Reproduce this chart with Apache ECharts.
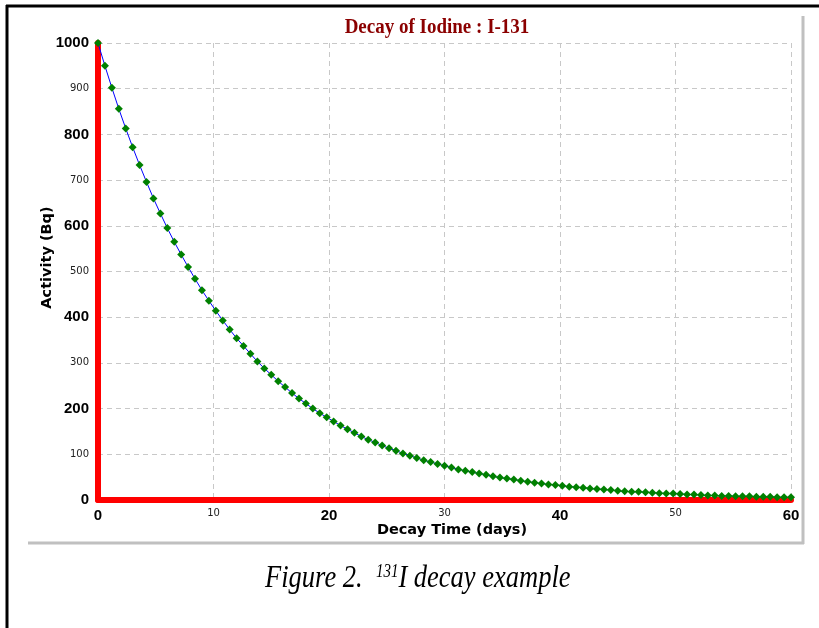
<!DOCTYPE html>
<html>
<head>
<meta charset="utf-8">
<script src="https://cdn.jsdelivr.net/npm/echarts@6/dist/echarts.min.js"></script>
<style>
  html, body { margin: 0; padding: 0; background: #fff; }
  #chart { width: 819px; height: 628px; }
</style>
</head>
<body>
<div id="chart"></div>
<script>
// decay time (days): one marker every ~0.6 day
var days = [0, 0.6, 1.2, 1.8, 2.4, 3, 3.6, 4.2, 4.8, 5.4, 6, 6.6, 7.2, 7.8, 8.4, 9, 9.6, 10.2, 10.8, 11.4,
  12, 12.6, 13.2, 13.8, 14.4, 15, 15.6, 16.2, 16.8, 17.4, 18, 18.6, 19.2, 19.8, 20.4, 21, 21.6, 22.2, 22.8, 23.4,
  24, 24.6, 25.2, 25.8, 26.4, 27, 27.6, 28.2, 28.8, 29.4, 30, 30.6, 31.2, 31.8, 32.4, 33, 33.6, 34.2, 34.8, 35.4,
  36, 36.6, 37.2, 37.8, 38.4, 39, 39.6, 40.2, 40.8, 41.4, 42, 42.6, 43.2, 43.8, 44.4, 45, 45.6, 46.2, 46.8, 47.4,
  48, 48.6, 49.2, 49.8, 50.4, 51, 51.6, 52.2, 52.8, 53.4, 54, 54.6, 55.2, 55.8, 56.4, 57, 57.6, 58.2, 58.8, 59.4, 60];
// activity (Bq)
var activity = [1000, 950, 902, 856, 813, 772, 733, 696, 660, 627, 595, 565, 537, 510, 484, 459, 436, 414, 393, 373,
  354, 337, 320, 303, 288, 274, 260, 247, 234, 222, 211, 200, 190, 181, 172, 163, 155, 147, 139, 132,
  126, 119, 113, 108, 102, 97, 92, 87, 83, 79, 75, 71, 67, 64, 61, 58, 55, 52, 49, 47,
  45, 42, 40, 38, 36, 34, 33, 31, 29, 28, 27, 25, 24, 23, 22, 20, 19, 18, 18, 17,
  16, 15, 14, 14, 13, 12, 12, 11, 10, 10, 9, 9, 8, 8, 8, 7, 7, 7, 6, 6, 6];
var xBig = [0, 20, 40, 60];
var yBig = [0, 200, 400, 600, 800, 1000];

var points = [];
for (var i = 0; i < days.length; i++) {
  points.push([days[i], activity[i]]);
}

var chart = echarts.init(document.getElementById('chart'));
chart.setOption({
  backgroundColor: '#fff',
  animation: false,
  grid: { left: 98, right: 28, top: 43, bottom: 128, containLabel: false },
  xAxis: {
    type: 'value',
    min: 0, max: 60, interval: 10,
    name: 'Decay Time (days)',
    nameLocation: 'middle',
    nameGap: 23,
    nameMoveOverlap: false,
    nameTextStyle: { fontFamily: 'DejaVu Sans', fontSize: 14.5, fontWeight: 'bold', color: '#000', padding: [0, 0, 0, 15] },
    axisLine: { show: true, onZero: false, lineStyle: { color: '#ff0000', width: 6 } },
    axisTick: { show: false },
    splitLine: { show: true, lineStyle: { color: '#c8c8c8', type: [5, 4], width: 1 } },
    axisLabel: {
      margin: 8,
      formatter: function (v) { return xBig.indexOf(v) >= 0 ? '{b|' + v + '}' : '{s|' + v + '}'; },
      rich: {
        b: { fontFamily: 'Liberation Sans', fontSize: 15, fontWeight: 'bold', color: '#000' },
        s: { fontFamily: 'DejaVu Sans', fontSize: 10, color: '#222', padding: [0, 0, 6, 0] }
      }
    }
  },
  yAxis: {
    type: 'value',
    min: 0, max: 1000, interval: 100,
    name: 'Activity (Bq)',
    nameLocation: 'middle',
    nameGap: 43,
    nameRotate: 90,
    nameMoveOverlap: false,
    nameTextStyle: { fontFamily: 'DejaVu Sans', fontSize: 14.5, fontWeight: 'bold', color: '#000', padding: [0, 0, 0, 28] },
    axisLine: { show: true, lineStyle: { color: '#ff0000', width: 6 } },
    axisTick: { show: false },
    splitLine: { show: true, lineStyle: { color: '#c8c8c8', type: [5, 4], width: 1 } },
    axisLabel: {
      margin: 9,
      formatter: function (v) { return yBig.indexOf(v) >= 0 ? '{b|' + v + '}' : '{s|' + v + '}'; },
      rich: {
        b: { fontFamily: 'Liberation Sans', fontSize: 15, fontWeight: 'bold', color: '#000' },
        s: { fontFamily: 'DejaVu Sans', fontSize: 10, color: '#222' }
      }
    }
  },
  series: [{
    type: 'line',
    data: points,
    lineStyle: { color: '#0000ff', width: 1 },
    symbol: 'diamond',
    symbolSize: 8,
    itemStyle: { color: '#008000' },
    z: 5
  }],
  graphic: [
    // outer black frame (top and left)
    { type: 'line', shape: { x1: 6, y1: 6, x2: 819, y2: 6 }, style: { stroke: '#000', lineWidth: 3 } },
    { type: 'line', shape: { x1: 7, y1: 5, x2: 7, y2: 628 }, style: { stroke: '#000', lineWidth: 3 } },
    // grey panel edges
    { type: 'line', shape: { x1: 803, y1: 16, x2: 803, y2: 544 }, style: { stroke: '#c0c0c0', lineWidth: 3 } },
    { type: 'line', shape: { x1: 28, y1: 543, x2: 804, y2: 543 }, style: { stroke: '#c0c0c0', lineWidth: 3 } },
    // chart title
    {
      type: 'text', x: 437, y: 28, scaleY: 1.12,
      style: {
        text: 'Decay of Iodine : I-131',
        align: 'center', verticalAlign: 'middle',
        font: 'bold 19px "Liberation Serif"', fill: '#8b0000'
      }
    },
    // caption
    {
      type: 'text', x: 265, y: 579, scaleY: 1.2,
      style: {
        text: '{t|Figure 2.  }{sup|131}{t|I decay example}',
        verticalAlign: 'middle',
        rich: {
          t: { fontFamily: 'Liberation Serif', fontStyle: 'italic', fontSize: 26.5, color: '#000' },
          sup: { fontFamily: 'Liberation Serif', fontStyle: 'italic', fontSize: 15, color: '#000', padding: [0, 0, 12, 0] }
        }
      }
    }
  ]
});
</script>
</body>
</html>
